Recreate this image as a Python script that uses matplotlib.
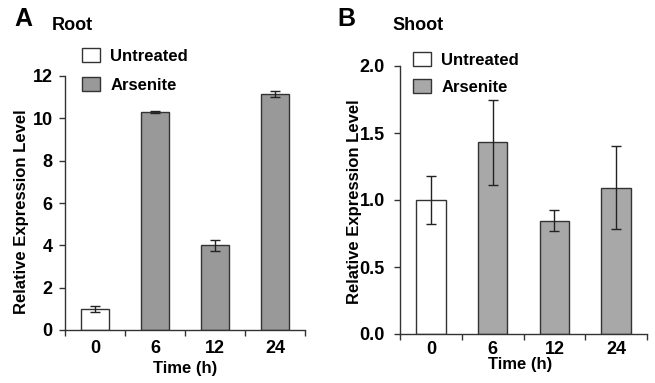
import matplotlib
matplotlib.use("Agg")
import matplotlib.pyplot as plt
import numpy as np
from matplotlib.patches import Patch

plt.rcParams['font.family'] = ['Liberation Sans', 'DejaVu Sans']
plt.rcParams['font.weight'] = 'bold'

times = ["0", "6", "12", "24"]
root_vals = [1.0, 10.3, 4.0, 11.15]
root_err = [0.15, 0.05, 0.25, 0.15]
shoot_vals = [1.0, 1.43, 0.845, 1.09]
shoot_err = [0.18, 0.32, 0.08, 0.31]
root_yticks = [0, 2, 4, 6, 8, 10, 12]
shoot_yticks = [0.0, 0.5, 1.0, 1.5, 2.0]
shoot_yticklabels = ["0.0", "0.5", "1.0", "1.5", "2.0"]

edge = '#333333'
W, H = 655, 383
fig = plt.figure(figsize=(W/100, H/100), dpi=100)
axA = fig.add_axes([65/W, 1-330/H, 240/W, 254/H])
axB = fig.add_axes([400/W, 1-334/H, 247/W, 268/H])

def draw(ax, vals, errs, arsen_color, ylim, yticks, yticklabels, xpad, ypad, ylab_xy, xlab_xy):
    x = np.arange(len(times))
    colors = ['white'] + [arsen_color]*(len(times)-1)
    ax.bar(x, vals, width=0.48, color=colors, edgecolor=edge, linewidth=1.0, zorder=2)
    ax.errorbar(x, vals, yerr=errs, fmt='none', ecolor='#222222', elinewidth=1.0,
                capsize=3.5, capthick=1.0, zorder=3)
    ax.set_xlim(-0.5, len(times)-0.5)
    ax.set_ylim(*ylim)
    ax.set_yticks(yticks)
    ax.set_yticklabels(yticklabels)
    ax.set_xticks(x)
    ax.set_xticklabels(times)
    ax.set_xticks(np.arange(-0.5, len(times), 1.0), minor=True)
    ax.tick_params(axis='x', which='major', length=0, labelsize=13, pad=xpad)
    ax.tick_params(axis='x', which='minor', length=4, width=1, direction='out', color=edge)
    ax.tick_params(axis='y', length=4, width=1, direction='out', labelsize=13, color=edge, pad=ypad)
    for s in ['top', 'right']:
        ax.spines[s].set_visible(False)
    for s in ['left', 'bottom']:
        ax.spines[s].set_color(edge)
        ax.spines[s].set_linewidth(1.0)
    ax.set_xlabel("Time (h)", fontsize=12, fontweight='bold')
    ax.set_ylabel("Relative Expression Level", fontsize=12, fontweight='bold')
    ax.yaxis.set_label_coords(*ylab_xy)
    ax.xaxis.set_label_coords(*xlab_xy)
    handles = [Patch(facecolor='white', edgecolor=edge, label='Untreated'),
               Patch(facecolor=arsen_color, edgecolor=edge, label='Arsenite')]
    return handles

hA = draw(axA, root_vals, root_err, '#999999', (0, 12), root_yticks,
          [str(t) for t in root_yticks], 7.5, 5, (-0.15, 0.465), (0.5, -0.122))
hB = draw(axB, shoot_vals, shoot_err, '#a8a8a8', (0, 2.0), shoot_yticks,
          shoot_yticklabels, 5.0, 7, (-0.154, 0.493), (0.486, -0.086))

for h, xa, ya, ls in [(hA, 82, 48, 0.8), (hB, 413, 52, 0.7)]:
    fig.legend(handles=h, loc='upper left', bbox_to_anchor=(xa/W, 1-ya/H), frameon=False,
               prop={'size': 12, 'weight': 'bold'}, handlelength=1.1, handleheight=0.9,
               handletextpad=0.6, labelspacing=ls, borderaxespad=0, borderpad=0)

fig.text(14/W, 1-19/H, "A", fontsize=18, fontweight='bold', va='center', ha='left')
fig.text(52/W, 1-25/H, "Root", fontsize=13, fontweight='bold', va='center', ha='left')
fig.text(337/W, 1-19/H, "B", fontsize=18, fontweight='bold', va='center', ha='left')
fig.text(392/W, 1-25/H, "Shoot", fontsize=13, fontweight='bold', va='center', ha='left')

fig.savefig("out.png", dpi=100)
